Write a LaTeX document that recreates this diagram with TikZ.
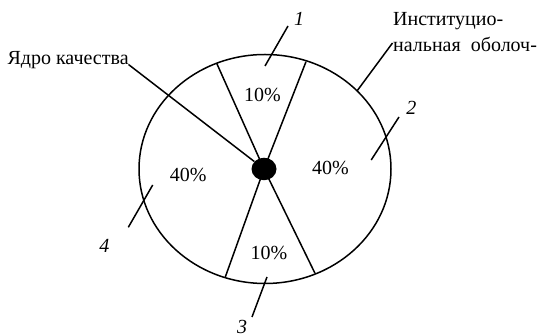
\documentclass[tikz,border=0pt]{standalone}
\usepackage{fontspec}
\setmainfont{Liberation Serif}
\usetikzlibrary{shapes.geometric}
\begin{document}
\begin{tikzpicture}[x=1pt,y=-1pt,
  ln/.style={line width=1.5pt},
  lbl/.style={font=\fontsize{20}{24}\selectfont, inner sep=0pt},
  num/.style={font=\fontsize{20}{24}\selectfont\itshape, inner sep=0pt}]
\useasboundingbox (0,0) rectangle (546,336);
% outer shell
\coordinate (c) at (265,169);
\coordinate (cc) at (264,169);
\draw[ln] (c) ellipse [x radius=126, y radius=114.5];
% sector lines
\coordinate (s1) at (216.7,63.3);
\coordinate (s2) at (306,61.7);
\coordinate (s3) at (225.3,277);
\coordinate (s4) at (315,273.3);
\draw[ln] (cc) -- (s1);
\draw[ln] (cc) -- (s2);
\draw[ln] (cc) -- (s3);
\draw[ln] (cc) -- (s4);
% core
\node[fill=black, ellipse, minimum width=25, minimum height=22.5, inner sep=0pt] (core) at (cc) {};
% percentages
\node[lbl] (p1) at (262.5,94.7) {10\%};
\node[lbl] (p2) at (330.5,168) {40\%};
\node[lbl] (p3) at (269,252.5) {10\%};
\node[lbl] (p4) at (188.3,174.5) {40\%};
% core label
\node[lbl, anchor=base west] (kern) at (7.3,65) {Ядро качества};
\coordinate (k1) at (128.5,64.5);
\draw[ln] (k1) -- (core);
% shell label
\node[lbl, anchor=base west] (shellA) at (393,25.7) {Институцио-};
\node[lbl, anchor=base west] (shellB) at (393,51.7) {нальная\ \ оболоч-};
\coordinate (sh1) at (392.5,43);
\coordinate (sh2) at (357,91);
\draw[ln] (sh1) -- (sh2);
% numbered labels
\node[num] (n1) at (299,19) {1};
\coordinate (a1) at (288,26);
\coordinate (b1) at (265,66);
\draw[ln] (a1) -- (b1);
\node[num] (n2) at (411.3,107.6) {2};
\coordinate (a2) at (399,117);
\coordinate (b2) at (371.2,160);
\draw[ln] (a2) -- (b2);
\node[num] (n3) at (242,327.3) {3};
\coordinate (a3) at (267,277);
\coordinate (b3) at (252,317);
\draw[ln] (a3) -- (b3);
\node[num] (n4) at (104.3,245.5) {4};
\coordinate (a4) at (152.7,185);
\coordinate (b4) at (128.3,227.3);
\draw[ln] (a4) -- (b4);
\end{tikzpicture}
\end{document}
